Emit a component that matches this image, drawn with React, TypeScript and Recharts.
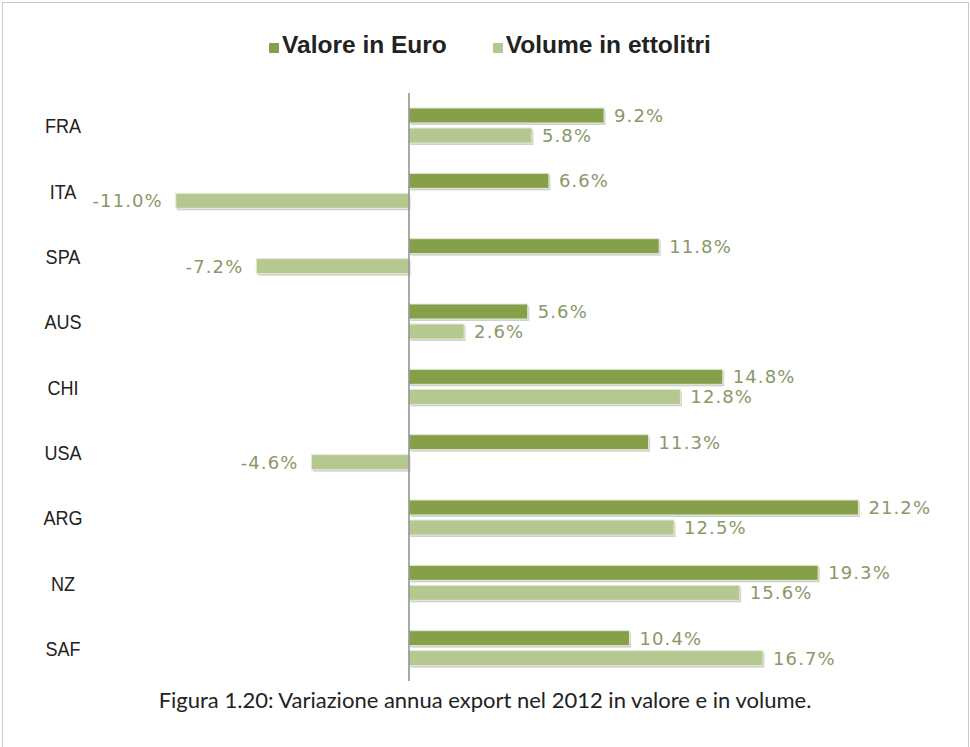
import React from "react";
import {
  BarChart,
  Bar,
  XAxis,
  YAxis,
  ReferenceLine,
  LabelList,
  Legend,
} from "recharts";

// countries and yearly change (%) of wine export, 2012
const countries = ["FRA", "ITA", "SPA", "AUS", "CHI", "USA", "ARG", "NZ", "SAF"];
const valoreEuro = [9.2, 6.6, 11.8, 5.6, 14.8, 11.3, 21.2, 19.3, 10.4];
const volumeEttolitri = [5.8, -11.0, -7.2, 2.6, 12.8, -4.6, 12.5, 15.6, 16.7];

const seriesNames = ["Valore in Euro", "Volume in ettolitri"];
const DARK = "#86a04a";
const LIGHT = "#b4c890";
const LABEL_COLOR = "#8a9868";
const SANS = "'Liberation Sans', Arial, sans-serif";

const data = countries.map((c, i) => ({
  country: c,
  valore: valoreEuro[i],
  volume: volumeEttolitri[i],
}));

// bar with a small drop shadow, like the Excel original
const ShadowBar = (props: any) => {
  const { x, y, width, height, fill } = props;
  const left = Math.min(x, x + width);
  const w = Math.abs(width);
  if (!w) return null;
  return (
    <g>
      <rect x={left + 1.5} y={y + 2} width={w} height={height} fill="#9a9a9a" opacity={0.45} />
      <rect x={left} y={y} width={w} height={height} fill={fill} stroke="#e4ead6" strokeWidth={1} />
    </g>
  );
};

const ValueLabel = (props: any) => {
  const { x, y, width, height, value } = props;
  const left = Math.min(x, x + width);
  const right = Math.max(x, x + width);
  const neg = value < 0;
  return (
    <text
      x={neg ? left - 13 : right + 10}
      y={y + height / 2}
      dy="0.36em"
      textAnchor={neg ? "end" : "start"}
      fill={LABEL_COLOR}
      fontFamily="'DejaVu Sans', sans-serif"
      fontSize={18}
      letterSpacing={1.1}
    >
      {value.toFixed(1)}%
    </text>
  );
};

// narrow-looking category names
const CountryTick = (props: any) => {
  const { y, payload } = props;
  return (
    <text
      transform={`translate(63 ${y}) scale(0.86 1)`}
      dy="0.36em"
      textAnchor="middle"
      fill="#222"
      fontFamily={SANS}
      fontSize={21}
    >
      {payload.value}
    </text>
  );
};

const LegendContent = () => (
  <div
    style={{
      display: "flex",
      justifyContent: "center",
      gap: 46,
      fontFamily: SANS,
      fontWeight: "bold",
      fontSize: 24.5,
      color: "#222",
      paddingLeft: 10,
    }}
  >
    {seriesNames.map((n, i) => (
      <span key={n} style={{ display: "flex", alignItems: "baseline" }}>
        <span
          style={{
            display: "inline-block",
            width: 10,
            height: 10,
            background: i === 0 ? DARK : LIGHT,
            marginRight: 3,
          }}
        />
        {n}
      </span>
    ))}
  </div>
);

export default function App() {
  return (
    <div
      style={{
        position: "absolute",
        left: 0,
        top: 0,
        width: 970,
        height: 747,
        background: "#fff",
      }}
    >
      <div
        style={{
          position: "absolute",
          left: 2,
          top: 2,
          width: 965,
          height: 760,
          border: "1px solid #c9c9c9",
        }}
      />
      <div style={{ position: "absolute", left: 0, top: 0 }}>
        <BarChart
          width={970}
          height={747}
          data={data}
          layout="vertical"
          margin={{ top: 93, right: 31, bottom: 66, left: 0 }}
          barSize={15}
          barGap={5}
        >
          <XAxis type="number" domain={[-15, 25]} hide />
          <YAxis
            type="category"
            dataKey="country"
            width={91}
            axisLine={false}
            tickLine={false}
            tick={<CountryTick />}
          />
          <Legend
            layout="horizontal"
            verticalAlign="middle"
            align="center"
            content={<LegendContent />}
            wrapperStyle={{ top: 31, left: 0, width: 970 }}
          />
          <Bar dataKey="valore" name={seriesNames[0]} fill={DARK} shape={<ShadowBar />} isAnimationActive={false}>
            <LabelList dataKey="valore" content={<ValueLabel />} />
          </Bar>
          <Bar dataKey="volume" name={seriesNames[1]} fill={LIGHT} shape={<ShadowBar />} isAnimationActive={false}>
            <LabelList dataKey="volume" content={<ValueLabel />} />
          </Bar>
          <ReferenceLine x={0} stroke="#8c8c8c" strokeWidth={1.5} />
        </BarChart>
      </div>
      <div
        style={{
          position: "absolute",
          left: 0,
          top: 686,
          width: 970,
          textAlign: "center",
          fontFamily: "Lato, 'Open Sans', sans-serif",
          fontSize: 22,
          color: "#222",
        }}
      >
        Figura 1.20: Variazione annua export nel 2012 in valore e in volume.
      </div>
    </div>
  );
}
